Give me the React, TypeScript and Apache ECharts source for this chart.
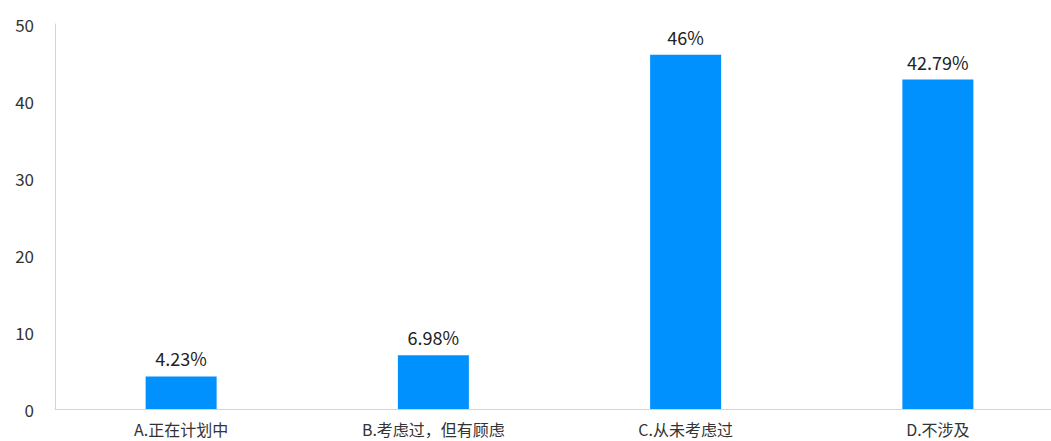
import React, { useEffect, useRef } from "react";
import * as echarts from "echarts";

const categories = ["A.正在计划中", "B.考虑过，但有顾虑", "C.从未考虑过", "D.不涉及"];
const values = [4.23, 6.98, 46, 42.79];
const yTicks = { min: 0, max: 50, interval: 10 };

export default function App() {
  const ref = useRef<HTMLDivElement>(null);
  useEffect(() => {
    if (!ref.current) return;
    const chart = echarts.init(ref.current, undefined, { renderer: "svg" });
    const font = "'Noto Sans CJK SC', 'Noto Sans', sans-serif";
    chart.setOption({
      animation: false,
      grid: { left: 55, top: 24, bottom: 32, width: 1009, outerBoundsMode: "none", containLabel: false },
      xAxis: {
        type: "category",
        data: categories,
        axisLine: { show: true, lineStyle: { color: "#ccd6eb", width: 1 } },
        axisTick: { show: false },
        axisLabel: { color: "#333", fontSize: 16, fontFamily: font, margin: 12 },
      },
      yAxis: {
        type: "value",
        min: yTicks.min,
        max: yTicks.max,
        interval: yTicks.interval,
        axisLine: { show: true, lineStyle: { color: "#ccd6eb", width: 1 } },
        axisTick: { show: false },
        splitLine: { show: false },
        axisLabel: { color: "#333", fontSize: 17, fontFamily: font, margin: 21 },
      },
      series: [
        {
          type: "bar",
          data: values,
          barWidth: 71,
          itemStyle: { color: "#0091ff" },
          label: {
            show: true,
            position: "top",
            distance: 9,
            formatter: (p: any) => p.value + "%",
            color: "#222",
            fontSize: 18,
            fontFamily: font,
          },
        },
      ],
    });
    return () => chart.dispose();
  }, []);
  return (
    <div
      ref={ref}
      style={{ position: "absolute", left: 0, top: 0, width: 1051, height: 441, background: "#fff" }}
    />
  );
}
